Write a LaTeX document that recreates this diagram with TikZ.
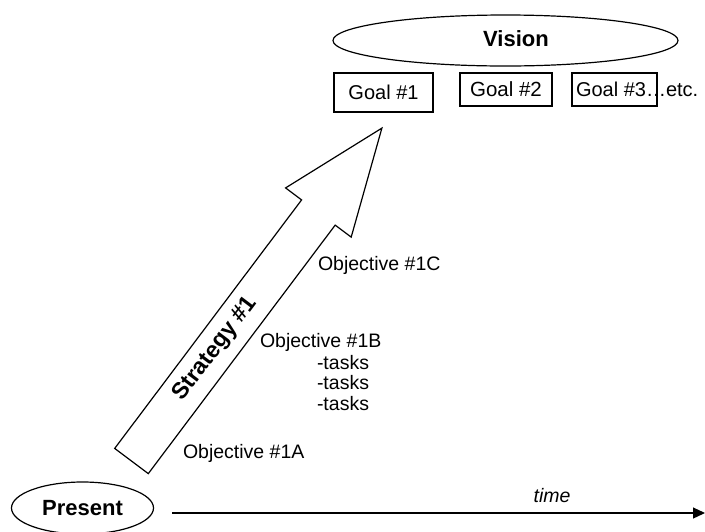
\documentclass[tikz,border=0pt]{standalone}
\usepackage{fontspec}
\setmainfont{Liberation Sans}
\usetikzlibrary{shapes.geometric,arrows.meta}
\begin{document}
\begin{tikzpicture}[x=1pt,y=-1pt,
  every node/.style={inner sep=0pt,outer sep=0pt},
  txt/.style={font=\fontsize{19.5}{22}\selectfont},
  gtxt/.style={font=\fontsize{20}{22}\selectfont},
  btxt/.style={font=\fontsize{22}{24}\bfseries\selectfont},
  oval/.style={draw,ellipse,line width=1.2pt},
  goalbox/.style={draw,line width=1.2pt},
  line/.style={line width=1.2pt}]
\useasboundingbox (0,0) rectangle (705,531);
\clip (0,0) rectangle (705,531);
% Vision
\node[oval,minimum width=345pt,minimum height=51pt] (vision) at (505.5,40.5) {};
\node[btxt] (visiont) at (516,38.5) {Vision};
% Goals
\node[goalbox,minimum width=99pt,minimum height=39pt] (g1) at (383.5,92.5) {};
\node[gtxt] (g1t) at (g1.center) {Goal \#1};
\node[goalbox,minimum width=92pt,minimum height=33pt] (g2) at (506,89.5) {};
\node[gtxt,font=\fontsize{20.5}{22}\selectfont] (g2t) at (g2.center) {Goal \#2};
\node[goalbox,minimum width=85pt,minimum height=33pt] (g3) at (614.5,89.5) {};
\node[gtxt,anchor=west] (g3t) at (576,89.5) {Goal \#3\ldots etc.};
% Strategy arrow
\coordinate (tl) at (114.7,448.4);
\coordinate (tr) at (148.3,473.6);
\coordinate (ir) at (335.2,225.1);
\coordinate (br) at (351.2,237.1);
\coordinate (tip) at (381.9,128.1);
\coordinate (bl) at (285.6,187.9);
\coordinate (il) at (301.6,199.9);
\draw[line,line join=miter] (tl) -- (tr) -- (ir) -- (br) -- (tip) -- (bl) -- (il) -- cycle;
\node[btxt,font=\fontsize{23}{24}\bfseries\selectfont,rotate=53] (strat) at (215.6,349.1) {Strategy \#1};
% Objectives
\node[txt,anchor=west] (o1c) at (318,265) {Objective \#1C};
\node[txt,anchor=west] (o1b) at (260,342) {Objective \#1B};
\node[txt,anchor=west] (t1) at (317,362.5) {-tasks};
\node[txt,anchor=west] (t2) at (317,383) {-tasks};
\node[txt,anchor=west] (t3) at (317,403.5) {-tasks};
\node[txt,anchor=west] (o1a) at (183,453) {Objective \#1A};
% Present and time
\node[oval,minimum width=142pt,minimum height=52pt] (present) at (82.5,508) {};
\node[btxt] (presentt) at (present.center) {Present};
\coordinate (tstart) at (172,513);
\coordinate (tend) at (705,513);
\draw[line,-{Triangle[length=12pt,width=11pt]}] (tstart) -- (tend);
\node[txt,font=\fontsize{19.5}{22}\itshape\selectfont] (time) at (552,496) {time};
\end{tikzpicture}
\end{document}
